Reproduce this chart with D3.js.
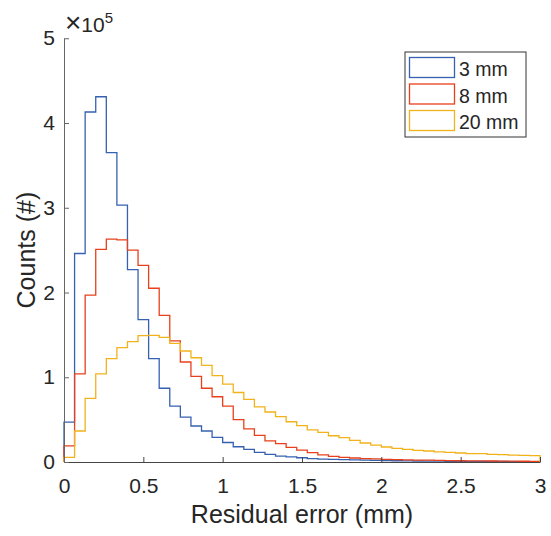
<!DOCTYPE html>
<html>
<head>
<meta charset="utf-8">
<script src="https://cdn.jsdelivr.net/npm/d3@7"></script>
<style>
  body { margin: 0; background: #fff; }
  text { font-family: "Liberation Sans", Arial, sans-serif; fill: #262626; }
</style>
</head>
<body>
<div id="container"></div>
<script>
// histogram bins: 45 bins of width 1/15 mm from 0 to 3
var binWidth = 1 / 15;
var seriesNames = ["3 mm", "8 mm", "20 mm"];
var seriesColors = ["#3561b0", "#e8401c", "#f2b21b"];

var counts3mm = [47000, 246000, 413000, 431000, 365000, 303000, 227000, 168000, 122000, 87000,
  66000, 53000, 42500, 36600, 29000, 23000, 18000, 15000, 11400, 9000,
  7000, 6000, 5000, 4000, 3500, 3000, 2700, 2400, 2100, 1900,
  1700, 1500, 1300, 1200, 1100, 1000, 900, 800, 800, 700,
  600, 600, 500, 500, 500];
var counts8mm = [19000, 104000, 197000, 251000, 263000, 262000, 250000, 232000, 205000, 173000,
  143000, 118000, 101000, 87000, 77000, 66000, 50000, 39000, 31500, 25000,
  21600, 17300, 14000, 11000, 8300, 6700, 5500, 4700, 4000, 3600,
  3200, 2900, 2600, 2300, 2100, 1900, 1700, 1500, 1400, 1300,
  1200, 1100, 1000, 900, 800];
var counts20mm = [5500, 36600, 75000, 104000, 122000, 135000, 142000, 149000, 149500, 147000,
  140000, 131000, 123000, 114000, 102000, 92000, 82000, 74000, 65000, 59000,
  53500, 47500, 43000, 38000, 35000, 31000, 28700, 25600, 22400, 20000,
  17700, 16000, 15000, 13800, 13000, 12000, 11400, 10600, 10000, 9800,
  9000, 8700, 8000, 7700, 7500];

var xTicks = [0, 0.5, 1, 1.5, 2, 2.5, 3];
var xTickLabels = ["0", "0.5", "1", "1.5", "2", "2.5", "3"];
var yTicks = [0, 1e5, 2e5, 3e5, 4e5, 5e5];
var yTickLabels = ["0", "1", "2", "3", "4", "5"];

function makeChart() {
  var w = 551, h = 536;
  var left = 64, right = 540, top = 38.25, bottom = 462;

  var svg = d3.select("#container")
    .append("svg")
    .attr("width", w)
    .attr("height", h);

  var xScale = d3.scaleLinear().domain([0, 3]).range([left, right]);
  var yScale = d3.scaleLinear().domain([0, 5e5]).range([bottom, top]);

  // stairs outlines
  var allSeries = [counts3mm, counts8mm, counts20mm];
  var lines = svg.append("g").attr("class", "stairs");
  allSeries.forEach(function(vals, k) {
    var d = "M" + xScale(0) + "," + yScale(0);
    vals.forEach(function(v, i) {
      d += "V" + yScale(v) + "H" + xScale((i + 1) * binWidth);
    });
    d += "V" + yScale(0);
    lines.append("path")
      .attr("d", d)
      .attr("fill", "none")
      .attr("stroke", seriesColors[k])
      .attr("stroke-width", 1.3);
  });

  // axes
  var xAxis = d3.axisBottom(xScale)
    .tickValues(xTicks)
    .tickFormat(function(d, i) { return xTickLabels[i]; })
    .tickSizeInner(-5).tickSizeOuter(0).tickPadding(16);
  var gx = svg.append("g")
    .attr("transform", "translate(0," + bottom + ")")
    .call(xAxis);
  gx.select(".domain").attr("stroke", "#444");
  gx.selectAll(".tick line").attr("stroke", "#444");
  gx.selectAll("text").attr("font-size", "21px").attr("fill", "#262626")
    .attr("font-family", "Liberation Sans, Arial, sans-serif");

  var yAxis = d3.axisLeft(yScale)
    .tickValues(yTicks)
    .tickFormat(function(d, i) { return yTickLabels[i]; })
    .tickSizeInner(-5).tickSizeOuter(0).tickPadding(9);
  var gy = svg.append("g")
    .attr("transform", "translate(" + left + ",0)")
    .call(yAxis);
  gy.select(".domain").attr("stroke", "#666");
  gy.selectAll(".tick line").attr("stroke", "#666");
  gy.selectAll("text").attr("font-size", "21px").attr("fill", "#262626")
    .attr("font-family", "Liberation Sans, Arial, sans-serif");

  // exponent label
  var expo = svg.append("text")
    .attr("x", 65)
    .attr("y", 32)
    .attr("font-size", "21px");
  expo.append("tspan").attr("font-size", "28px").text("\u00d7");
  expo.append("tspan").text("10");
  expo.append("tspan").attr("font-size", "15px").attr("dy", -9).text("5");

  // axis titles
  svg.append("text")
    .attr("x", (left + right) / 2)
    .attr("y", 523)
    .attr("text-anchor", "middle")
    .attr("font-size", "25px")
    .text("Residual error (mm)");

  svg.append("text")
    .attr("transform", "translate(35," + (top + bottom) / 2 + ") rotate(-90)")
    .attr("text-anchor", "middle")
    .attr("font-size", "25px")
    .text("Counts (#)");

  // legend
  var legend = svg.append("g").attr("class", "legend");
  legend.append("rect")
    .attr("x", 405).attr("y", 52)
    .attr("width", 121).attr("height", 85)
    .attr("fill", "#fff")
    .attr("stroke", "#333")
    .attr("stroke-width", 1);
  seriesNames.forEach(function(name, i) {
    legend.append("rect")
      .attr("x", 409.5).attr("y", 57.5 + i * 26.5)
      .attr("width", 45).attr("height", 20)
      .attr("fill", "#fff")
      .attr("stroke", seriesColors[i])
      .attr("stroke-width", 1.3);
    legend.append("text")
      .attr("x", 459).attr("y", 76 + i * 26.5)
      .attr("font-size", "19.5px")
      .text(name);
  });
}

makeChart();
</script>
</body>
</html>
